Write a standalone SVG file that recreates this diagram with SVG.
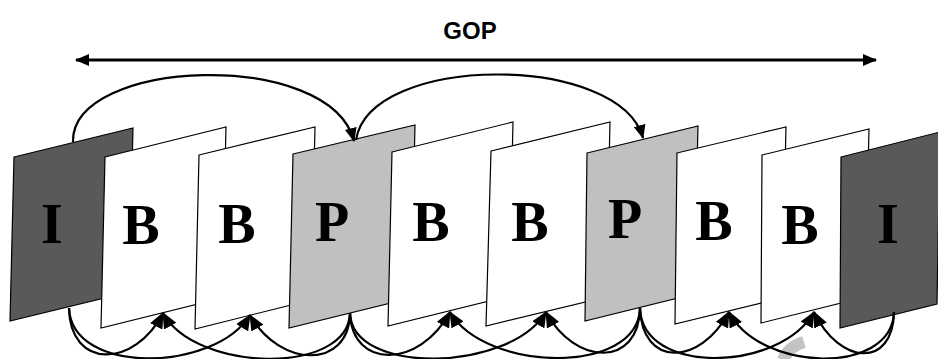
<svg xmlns="http://www.w3.org/2000/svg" width="938" height="359" viewBox="0 0 938 359">
<style>
.fr{stroke:#000;stroke-width:1.2;stroke-linejoin:miter}
.i{fill:#595959}
.b{fill:#fff}
.p{fill:#c0c0c0}
.lt{font-family:"Liberation Serif","Times New Roman",serif;font-weight:bold;font-size:56px;text-anchor:middle;fill:#000}
.c{fill:none;stroke:#000;stroke-width:2.2}
.gop{font-family:"Liberation Sans",Arial,sans-serif;font-weight:bold;font-size:24px;text-anchor:middle;fill:#000}
</style>
<defs>
<marker id="ah" viewBox="0 0 14 12" refX="13" refY="6" markerWidth="14" markerHeight="12" markerUnits="userSpaceOnUse" orient="auto">
<path d="M0,0 L14,6 L0,12 Z" fill="#000"/>
</marker>
<marker id="ahb" viewBox="0 0 16 14" refX="15" refY="7" markerWidth="16" markerHeight="14" markerUnits="userSpaceOnUse" orient="auto">
<path d="M0,0 L16,7 L0,14 Z" fill="#000"/>
</marker>
<marker id="ah2" viewBox="0 0 14 12" refX="13" refY="6" markerWidth="14" markerHeight="12" markerUnits="userSpaceOnUse" orient="auto-start-reverse">
<path d="M0,0 L14,6 L0,12 Z" fill="#000"/>
</marker>
</defs>

<g id="gop">
<text class="gop" x="470" y="39">GOP</text>
<line x1="76" y1="60" x2="876" y2="60" stroke="#000" stroke-width="3" marker-start="url(#ah2)" marker-end="url(#ah2)"/>
</g>

<g id="f1"><polygon class="fr i" points="14,157 133,128 129,292 10,321"/><text class="lt" x="52" y="243">I</text></g>
<g id="f2"><polygon class="fr b" points="105,157 226,127 222,298 101,328"/><text class="lt" x="141" y="244">B</text></g>
<g id="f3"><polygon class="fr b" points="199,155 315,127 311,300 195,329"/><text class="lt" x="237" y="243">B</text></g>
<g id="f4"><polygon class="fr p" points="293,154 415,125 411,298 289,328"/><text class="lt" x="332" y="241">P</text></g>
<g id="f5"><polygon class="fr b" points="392,152 513,122 509,296 388,326"/><text class="lt" x="431" y="241">B</text></g>
<g id="f6"><polygon class="fr b" points="491,151 610,122 606,297 486,326"/><text class="lt" x="530" y="241">B</text></g>
<g id="f7"><polygon class="fr p" points="587,153 698,126 694,294 585,321"/><text class="lt" x="625" y="238">P</text></g>
<g id="f8"><polygon class="fr b" points="677,153 786,127 782,298 675,324"/><text class="lt" x="714" y="240">B</text></g>
<g id="f9"><polygon class="fr b" points="762,155 869,129 865,297 761,323"/><text class="lt" x="800" y="244">B</text></g>
<g id="f10"><polygon class="fr i" points="841,157 940,132 937,304 840,328"/><text class="lt" x="888" y="243">I</text></g>

<path d="M783,360 Q788,347 804,342" fill="none" stroke="#c4c4c4" stroke-width="12"/>

<g id="connectors">
<path class="c" d="M73,142 C71,58 330,48 354,141" marker-end="url(#ah)"/>
<path class="c" d="M356,140 C370,53 620,53 643,138" marker-end="url(#ah)"/>

<path class="c" d="M69,308 C70,370 135,368 163,313" marker-end="url(#ahb)"/>
<path class="c" d="M69,308 C72,376 215,372 250,315" marker-end="url(#ahb)"/>

<path class="c" d="M350,313 C348,376 195,372 163,313" marker-end="url(#ahb)"/>
<path class="c" d="M350,313 C349,370 280,368 250,315" marker-end="url(#ahb)"/>
<path class="c" d="M350,313 C352,370 420,368 450,312" marker-end="url(#ahb)"/>
<path class="c" d="M350,313 C352,376 510,372 546,312" marker-end="url(#ahb)"/>

<path class="c" d="M640,308 C638,376 485,372 450,312" marker-end="url(#ahb)"/>
<path class="c" d="M640,308 C639,368 575,366 546,312" marker-end="url(#ahb)"/>
<path class="c" d="M640,308 C642,368 700,366 729,312" marker-end="url(#ahb)"/>
<path class="c" d="M640,308 C642,376 780,372 814,312" marker-end="url(#ahb)"/>

<path class="c" d="M894,312 C892,376 760,372 729,312" marker-end="url(#ahb)"/>
<path class="c" d="M894,312 C893,368 840,366 814,312" marker-end="url(#ahb)"/>
</g>
</svg>
